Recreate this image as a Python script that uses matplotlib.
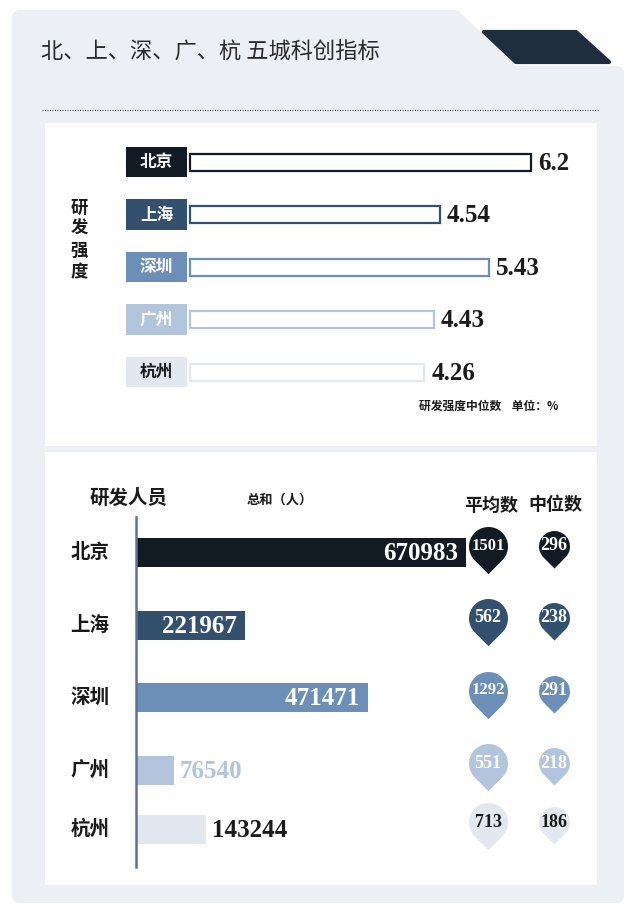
import numpy as np
import matplotlib
matplotlib.use("Agg")
import matplotlib.pyplot as plt
from matplotlib.patches import Polygon, Rectangle
from matplotlib.path import Path
import matplotlib.transforms as mtransforms

plt.rcParams['font.family'] = ['Noto Sans CJK SC', 'DejaVu Sans']

# data
cities = ['北京', '上海', '深圳', '广州', '杭州']
rd_intensity = [6.2, 4.54, 5.43, 4.43, 4.26]          # 研发强度中位数 (%)
rd_staff_total = [670983, 221967, 471471, 76540, 143244]  # 研发人员总和（人）
rd_staff_mean = [1501, 562, 1292, 551, 713]
rd_staff_median = [296, 238, 291, 218, 186]

# styles
city_colors = ['#121a24', '#33506f', '#6c8fb8', '#b3c5dc', '#e3e8f0']
label_text = ['white', 'white', 'white', 'white', '#1a1a1a']
pin_text = ['white', 'white', 'white', 'white', '#1a1a1a']
panel_bg = '#eceff4'
dark = '#1a1a1a'
serif = 'Liberation Serif'

fig = plt.figure(figsize=(6.4, 9.16), dpi=100)

# background decoration in pixel coordinates
bg = fig.add_axes([0, 0, 1, 1])
bg.set_xlim(0, 640)
bg.set_ylim(916, 0)
bg.axis('off')
bg.add_patch(Polygon([(19, 17), (455, 17), (513, 73), (617, 73), (617, 896), (19, 896)],
                     closed=True, fc=panel_bg, ec=panel_bg, lw=10, joinstyle='round'))
bg.add_patch(Polygon([(484, 32), (576, 32), (609, 62), (516, 62)],
                     closed=True, fc='#1f2e3e', ec='#1f2e3e', lw=3, joinstyle='round'))
bg.text(41, 52, '北、上、深、广、杭 五城科创指标', fontsize=16, color='#2a2a2a',
        va='center', ha='left')
bg.plot([42, 598], [110, 110], color='#555555', lw=0.9, dashes=(0.8, 1.2))
bg.add_patch(Rectangle((45, 123), 552, 323, fc='white', ec='none'))
bg.add_patch(Rectangle((45, 452), 552, 433, fc='white', ec='none'))

# ---- top: R&D intensity ----
ax1 = fig.add_axes([120 / 640, 1 - 400 / 916, 480 / 640, 270 / 916])
ax1.patch.set_alpha(0)
ax1.axis('off')
px1 = 55.0  # pixels per unit
ax1.set_xlim(-70 / px1, 410 / px1)
rows1 = np.arange(len(cities))
ax1.set_ylim((400 - 162) / 52.5, (130 - 162) / 52.5)
ax1.barh(rows1, rd_intensity, height=17 / 52.5, color='white',
         edgecolor=city_colors, linewidth=1.6)
box_l, box_r = -64 / px1, -3 / px1
for i, c in enumerate(cities):
    ax1.add_patch(Rectangle((box_l, i - 0.29), box_r - box_l, 0.58,
                            fc=city_colors[i], ec='none'))
    ax1.text((box_l + box_r) / 2, i, c, color=label_text[i], fontsize=12,
             fontweight='bold', ha='center', va='center')
    ax1.annotate(f'{rd_intensity[i]:g}', (rd_intensity[i], i), xytext=(5, -1),
                 textcoords='offset points', ha='left', va='center',
                 fontsize=18, fontweight='bold', family=serif, color=dark)
bg.text(79, 240, '研\n发\n强\n度', fontsize=12.5, fontweight='bold', color=dark,
        ha='center', va='center', linespacing=1.25)
bg.text(558, 406, '研发强度中位数    单位：%', fontsize=8.5, fontweight='bold',
        color=dark, ha='right', va='center')

# ---- bottom: R&D staff ----
ax2 = fig.add_axes([60 / 640, 1 - 880 / 916, 540 / 640, 365 / 916])
ax2.patch.set_alpha(0)
ax2.axis('off')
units = 670983 / 330.0  # data units per pixel
ax2.set_xlim(-76 * units, 464 * units)
row_y = [0, 1, 2, 3, 3.82]   # layout: vertical slots of the rows
ax2.set_ylim((880 - 552.5) / 72.5, (515 - 552.5) / 72.5)
ax2.barh(row_y, rd_staff_total, height=29 / 72.5, color=city_colors)
ax2.axvline(0, ymin=13 / 365, ymax=363 / 365, color='#5a7296', lw=1.8)

trans = mtransforms.blended_transform_factory(ax2.transAxes, ax2.transData)
out_colors = ['white', 'white', 'white', '#b3c5dc', dark]
for i, c in enumerate(cities):
    ax2.text(30 / 540, row_y[i], c, transform=trans, fontsize=14, fontweight='bold',
             color=dark, ha='center', va='center')
    v = rd_staff_total[i]
    if v > 200000:
        ax2.annotate(str(v), (v, row_y[i]), xytext=(-6, -1), textcoords='offset points',
                     ha='right', va='center', fontsize=18, fontweight='bold',
                     family=serif, color='white')
    else:
        ax2.annotate(str(v), (v, row_y[i]), xytext=(4, -1), textcoords='offset points',
                     ha='left', va='center', fontsize=18, fontweight='bold',
                     family=serif, color=out_colors[i])


def pin_path(d=1.42):
    a = np.degrees(np.arccos(1 / d))
    arc = Path.arc(-90 + a, 270 - a)
    verts = np.vstack([arc.vertices, [[0, -d]], [arc.vertices[0]]])
    codes = list(arc.codes) + [Path.LINETO, Path.CLOSEPOLY]
    return Path(verts, codes)


pin = pin_path()
pin_y = [y - 7 / 72.5 for y in row_y]
cols = [((488 - 60) / 540, rd_staff_mean, 19.5), ((554 - 60) / 540, rd_staff_median, 15.5)]
for xf, vals, r in cols:
    for i, v in enumerate(vals):
        ax2.plot([xf], [pin_y[i]], transform=trans, marker=pin, linestyle='none',
                 markersize=2 * 1.42 * r * 0.72, markerfacecolor=city_colors[i],
                 markeredgewidth=0)
        ax2.text(xf, pin_y[i], str(v), transform=trans, ha='center', va='center',
                 fontsize=12 if v >= 1000 else 13, fontweight='bold', family=serif,
                 color=pin_text[i])

bg.text(129, 498, '研发人员', fontsize=14, fontweight='bold', color=dark,
        ha='center', va='center')
bg.text(280, 500, '总和（人）', fontsize=9.5, fontweight='bold', color=dark,
        ha='center', va='center')
bg.text(491, 505, '平均数', fontsize=13, fontweight='bold', color=dark,
        ha='center', va='center')
bg.text(555, 505, '中位数', fontsize=13, fontweight='bold', color=dark,
        ha='center', va='center')

fig.savefig('out.png', dpi=100)
